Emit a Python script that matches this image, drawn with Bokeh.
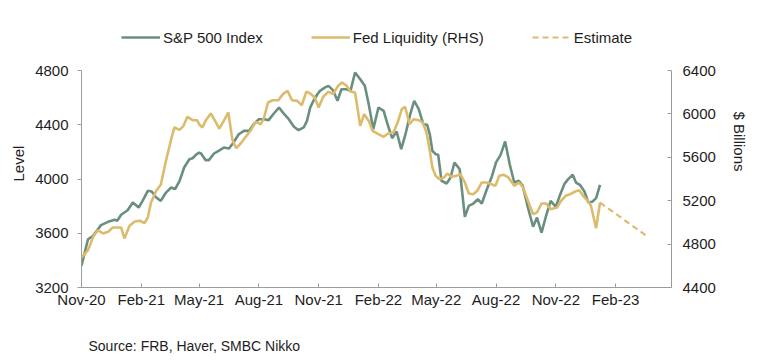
import numpy as np
import pandas as pd
from bokeh.plotting import figure
from bokeh.models import (LinearAxis, Range1d, FixedTicker, DatetimeTickFormatter,
                          Title, Legend, LegendItem)
from bokeh.embed import file_html
from bokeh.resources import INLINE

# ---------------- data ----------------
spx_dates = [
    "2020-11-01", "2020-11-11", "2020-11-19", "2020-12-01", "2020-12-12", "2020-12-22", "2020-12-26",
    "2021-01-01", "2021-01-11", "2021-01-19", "2021-01-28", "2021-02-03", "2021-02-11", "2021-02-17",
    "2021-02-24", "2021-03-03", "2021-03-11", "2021-03-19", "2021-03-25", "2021-04-01", "2021-04-08",
    "2021-04-16", "2021-04-21", "2021-04-26", "2021-05-01", "2021-05-04", "2021-05-11", "2021-05-16",
    "2021-05-24", "2021-05-31", "2021-06-08", "2021-06-16", "2021-06-23", "2021-07-01", "2021-07-09",
    "2021-07-17", "2021-07-24", "2021-08-01", "2021-08-09", "2021-08-16", "2021-08-24", "2021-09-01",
    "2021-09-08", "2021-09-16", "2021-09-24", "2021-10-01", "2021-10-09", "2021-10-14", "2021-10-19",
    "2021-10-24", "2021-10-30", "2021-11-03", "2021-11-11", "2021-11-16", "2021-11-23", "2021-11-30",
    "2021-12-06", "2021-12-14", "2021-12-20", "2021-12-27", "2022-01-04", "2022-01-11", "2022-01-17",
    "2022-01-24", "2022-02-01", "2022-02-09", "2022-02-15", "2022-02-22", "2022-03-01", "2022-03-08",
    "2022-03-14", "2022-03-22", "2022-03-28", "2022-04-04", "2022-04-11", "2022-04-17", "2022-04-21",
    "2022-04-25", "2022-04-30", "2022-05-04", "2022-05-09", "2022-05-17", "2022-05-23", "2022-05-29",
    "2022-06-06", "2022-06-14", "2022-06-20", "2022-06-27", "2022-07-04", "2022-07-10", "2022-07-17",
    "2022-07-25", "2022-08-01", "2022-08-08", "2022-08-15", "2022-08-22", "2022-08-29", "2022-09-05",
    "2022-09-11", "2022-09-19", "2022-09-27", "2022-10-03", "2022-10-10", "2022-10-17", "2022-10-24",
    "2022-11-01", "2022-11-07", "2022-11-14", "2022-11-20", "2022-11-27", "2022-12-02", "2022-12-08",
    "2022-12-15", "2022-12-21", "2022-12-27", "2023-01-02", "2023-01-08",
]
spx_level = [
    3360, 3556, 3581, 3660, 3684, 3699, 3692,
    3736, 3770, 3827, 3790, 3839, 3913, 3908,
    3864, 3839, 3900, 3937, 3925, 3987, 4085,
    4146, 4153, 4178, 4195, 4188, 4139, 4139,
    4188, 4208, 4232, 4225, 4269, 4330, 4355,
    4355, 4404, 4441, 4441, 4434, 4483, 4527,
    4483, 4441, 4385, 4360, 4380, 4429, 4527,
    4577, 4625, 4650, 4675, 4687, 4655, 4577,
    4662, 4662, 4650, 4785, 4736, 4687, 4552,
    4367, 4527, 4503, 4404, 4301, 4350, 4220,
    4319, 4478, 4577, 4515, 4404, 4399, 4330,
    4208, 4183, 4178, 3987, 3967, 4011, 4122,
    4072, 3721, 3802, 3819, 3851, 3819, 3913,
    4011, 4122, 4178, 4277, 4109, 3974, 3987,
    3950, 3790, 3648, 3716, 3605, 3729, 3839,
    3795, 3876, 3962, 3999, 4031, 3974, 3957,
    3908, 3827, 3832, 3859, 3957,
]

fed_dates = [
    "2020-11-01", "2020-11-11", "2020-11-19", "2020-11-26", "2020-12-04", "2020-12-12", "2020-12-19",
    "2020-12-27", "2021-01-01", "2021-01-06", "2021-01-14", "2021-01-22", "2021-01-30", "2021-02-06",
    "2021-02-11", "2021-02-16", "2021-02-24", "2021-03-03", "2021-03-11", "2021-03-19", "2021-03-24",
    "2021-04-01", "2021-04-07", "2021-04-13", "2021-04-21", "2021-04-28", "2021-05-01", "2021-05-06",
    "2021-05-11", "2021-05-19", "2021-05-26", "2021-06-01", "2021-06-08", "2021-06-15", "2021-06-21",
    "2021-06-27", "2021-07-04", "2021-07-11", "2021-07-19", "2021-07-27", "2021-08-04", "2021-08-09",
    "2021-08-15", "2021-08-22", "2021-08-31", "2021-09-07", "2021-09-14", "2021-09-21", "2021-09-29",
    "2021-10-06", "2021-10-13", "2021-10-19", "2021-10-26", "2021-11-01", "2021-11-08", "2021-11-16",
    "2021-11-23", "2021-12-01", "2021-12-07", "2021-12-14", "2021-12-20", "2021-12-27", "2022-01-04",
    "2022-01-10", "2022-01-17", "2022-01-23", "2022-02-01", "2022-02-09", "2022-02-16", "2022-02-24",
    "2022-03-02", "2022-03-09", "2022-03-14", "2022-03-21", "2022-03-27", "2022-04-04", "2022-04-10",
    "2022-04-16", "2022-04-21", "2022-04-25", "2022-04-30", "2022-05-06", "2022-05-13", "2022-05-18",
    "2022-05-24", "2022-06-01", "2022-06-07", "2022-06-14", "2022-06-20", "2022-06-27", "2022-07-03",
    "2022-07-10", "2022-07-18", "2022-07-25", "2022-07-31", "2022-08-06", "2022-08-13", "2022-08-20",
    "2022-08-29", "2022-09-05", "2022-09-11", "2022-09-19", "2022-09-27", "2022-10-03", "2022-10-10",
    "2022-10-17", "2022-10-24", "2022-11-03", "2022-11-09", "2022-11-16", "2022-11-23", "2022-12-01",
    "2022-12-07", "2022-12-13", "2022-12-20", "2022-12-25", "2023-01-02", "2023-01-08",
]
fed_liquidity = [
    4676, 4744, 4867, 4928, 4898, 4913, 4953,
    4953, 4953, 4852, 4969, 5008, 5015, 4993,
    5045, 5183, 5291, 5347, 5568, 5767, 5875,
    5853, 5890, 5973, 5942, 5942, 5905, 5875,
    5936, 6004, 5930, 5865, 5936, 6013, 5767,
    5684, 5727, 5782, 5844, 5927, 5905, 5967,
    6105, 6126, 6126, 6182, 6213, 6126, 6120,
    6080, 6206, 6188, 6151, 6059, 6158, 6206,
    6182, 6259, 6289, 6259, 6206, 6197, 5890,
    5997, 5936, 5844, 5813, 5789, 5819, 5829,
    5911, 6044, 6066, 5905, 5951, 5942, 5921,
    5829, 5660, 5506, 5429, 5398, 5414, 5451,
    5420, 5429, 5444, 5368, 5266, 5260, 5291,
    5368, 5368, 5352, 5337, 5429, 5439, 5414,
    5337, 5368, 5328, 5199, 5076, 5091, 5174,
    5174, 5122, 5137, 5199, 5245, 5260, 5285,
    5297, 5245, 5199, 5153, 4947, 5183,
]

estimate_dates = ["2023-01-08", "2023-03-24"]
estimate_liquidity = [5183, 4861]

x_tick_dates = ["2020-11-01", "2021-02-01", "2021-05-01", "2021-08-01", "2021-11-01",
                "2022-02-01", "2022-05-01", "2022-08-01", "2022-11-01", "2023-02-01"]
x_tick_labels = ["Nov-20", "Feb-21", "May-21", "Aug-21", "Nov-21",
                 "Feb-22", "May-22", "Aug-22", "Nov-22", "Feb-23"]
left_ticks = [3200, 3600, 4000, 4400, 4800]
right_ticks = [4400, 4800, 5200, 5600, 6000, 6400]

series_names = ["S&P 500 Index", "Fed Liquidity (RHS)", "Estimate"]
left_title = "Level"
right_title = "$ Billions"
source_text = "Source: FRB, Haver, SMBC Nikko"

# ---------------- layout / styling ----------------
GREEN = "#6a8f7f"
GOLD = "#dcbb6c"
AXIS = "#9c9c9c"
TEXT = "#1e1e1e"
FONT = "Liberation Sans"

AXIS_PX = 217      # height of the value axes in pixels
LEGEND_PX = 43     # room above the axes (inside the frame) that holds the legend
head = LEGEND_PX / AXIS_PX
left_span = left_ticks[-1] - left_ticks[0]
right_span = right_ticks[-1] - right_ticks[0]

p = figure(
    output_backend="svg", toolbar_location=None,
    x_axis_type="datetime",
    frame_width=590, frame_height=AXIS_PX + LEGEND_PX,
    min_border_left=81, min_border_right=86, min_border_top=27, min_border_bottom=40,
    x_range=Range1d(pd.Timestamp("2020-11-01"), pd.Timestamp("2023-04-28")),
    y_range=Range1d(left_ticks[0], left_ticks[-1] + left_span * head),
)
p.extra_y_ranges = {"fed": Range1d(right_ticks[0], right_ticks[-1] + right_span * head)}
p.outline_line_color = None
p.xgrid.visible = False
p.ygrid.visible = False
p.background_fill_color = "white"
p.border_fill_color = "white"

r_spx = p.line(pd.to_datetime(spx_dates), spx_level, line_color=GREEN, line_width=2.6)
r_fed = p.line(pd.to_datetime(fed_dates), fed_liquidity, line_color=GOLD, line_width=2.6,
               y_range_name="fed")
r_est = p.line(pd.to_datetime(estimate_dates), estimate_liquidity, line_color=GOLD, line_width=2.2,
               line_dash="6 4", y_range_name="fed")


def style_axis(ax):
    ax.axis_line_color = AXIS
    ax.axis_line_width = 1
    ax.major_tick_line_color = AXIS
    ax.minor_tick_line_color = None
    ax.major_label_text_font = FONT
    ax.major_label_text_font_size = "15px"
    ax.major_label_text_color = TEXT


# bottom axis
xax = p.xaxis[0]
style_axis(xax)
tick_ms = [pd.Timestamp(d).value // 10**6 for d in x_tick_dates]
xax.ticker = FixedTicker(ticks=tick_ms)
xax.formatter = DatetimeTickFormatter(
    milliseconds="%b-%y", seconds="%b-%y", minsec="%b-%y", minutes="%b-%y", hourmin="%b-%y",
    hours="%b-%y", days="%b-%y", months="%b-%y", years="%b-%y")
xax.major_tick_in = 4
xax.major_tick_out = 0
xax.major_label_standoff = 3

# source note below the axis (the leading empty line gives the gap under the tick labels)
p.add_layout(Title(text="\n" + source_text, align="left", offset=7, vertical_align="top",
                   standoff=0, text_font=FONT, text_font_size="14px", text_line_height=1.7,
                   text_font_style="normal", text_color=TEXT), "below")

# left axis
yax = p.yaxis[0]
style_axis(yax)
yax.ticker = FixedTicker(ticks=left_ticks)
yax.bounds = (left_ticks[0], left_ticks[-1])
yax.major_tick_in = 0
yax.major_tick_out = 4
yax.major_label_standoff = 9

# right axis
rax = LinearAxis(y_range_name="fed")
style_axis(rax)
rax.ticker = FixedTicker(ticks=right_ticks)
rax.bounds = (right_ticks[0], right_ticks[-1])
rax.major_tick_in = 4
rax.major_tick_out = 0
rax.major_label_standoff = 11
p.add_layout(rax, "right")

# axis titles, offset along the axis like the reference
p.add_layout(Title(text=left_title, align="left", offset=106, vertical_align="bottom",
                   standoff=12, text_font=FONT, text_font_size="15px",
                   text_font_style="normal", text_color=TEXT), "left")
p.add_layout(Title(text=right_title, align="left", offset=84, vertical_align="bottom",
                   standoff=24, text_font=FONT, text_font_size="15px",
                   text_font_style="normal", text_color=TEXT), "right")

legend = Legend(
    items=[LegendItem(label=series_names[0], renderers=[r_spx]),
           LegendItem(label=series_names[1], renderers=[r_fed]),
           LegendItem(label=series_names[2], renderers=[r_est])],
    orientation="horizontal", location=(40, AXIS_PX + LEGEND_PX - 20),
    border_line_color=None, background_fill_alpha=0,
    padding=0, margin=0, spacing=48,
    glyph_width=39, glyph_height=20, label_standoff=3, label_height=20,
    label_text_font=FONT, label_text_font_size="15px", label_text_color=TEXT,
)
p.add_layout(legend)

open("out.html", "w").write(file_html(p, INLINE))
